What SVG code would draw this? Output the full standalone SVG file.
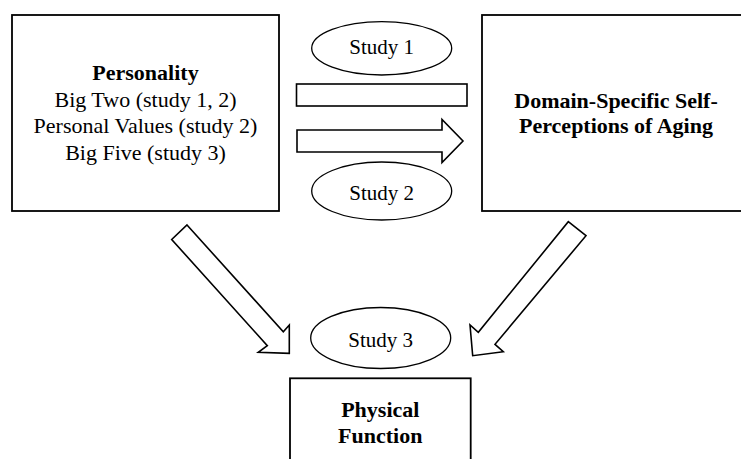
<svg xmlns="http://www.w3.org/2000/svg" width="741" height="459" viewBox="0 0 741 459">
<style>
.box{fill:#fff;stroke:#000;stroke-width:1.8}
.ell{fill:#fff;stroke:#000;stroke-width:1.3}
.arr{fill:#fff;stroke:#000;stroke-width:1.6;stroke-linejoin:miter}
text{font-family:"Liberation Serif","Times New Roman",serif;fill:#000;text-anchor:middle}
.b{font-weight:bold;font-size:22px}
.r{font-size:22px}
.s{font-size:21px}
</style>
<rect width="741" height="459" fill="#fff"/>
<g id="connectors">
<rect class="arr" x="296.5" y="84" width="170.5" height="22"/>
<polygon class="arr" points="297,130 442,130 442,119.5 463,141 442,162.5 442,152 297,152"/>
<polygon class="arr" points="187,225 283.3,331.7 289.3,325 289.3,353.3 258.3,352.3 267.3,345.7 171.7,239.5"/>
<polygon class="arr" points="568.3,221.7 586,235.7 495,344.3 503.3,351.7 472.7,355.7 470,325 478.3,332.3"/>
</g>
<g id="personality">
<rect class="box" x="12" y="15" width="267" height="196"/>
<text class="b" x="145.5" y="80">Personality</text>
<text class="r" x="145.5" y="106.7">Big Two (study 1, 2)</text>
<text class="r" x="145.5" y="133.3">Personal Values (study 2)</text>
<text class="r" x="145.5" y="160">Big Five (study 3)</text>
</g>
<g id="perceptions">
<rect class="box" x="482" y="15" width="270" height="196"/>
<text class="b" x="616" y="107.7">Domain-Specific Self-</text>
<text class="b" x="616" y="133.3">Perceptions of Aging</text>
</g>
<g id="study1">
<ellipse class="ell" cx="381.7" cy="48.3" rx="70" ry="26.7"/>
<text class="s" x="381.7" y="54">Study 1</text>
</g>
<g id="study2">
<ellipse class="ell" cx="381.7" cy="191" rx="70" ry="29"/>
<text class="s" x="381.7" y="200">Study 2</text>
</g>
<g id="study3">
<ellipse class="ell" cx="380.7" cy="338" rx="70" ry="30.5"/>
<text class="s" x="380.7" y="346.7">Study 3</text>
</g>
<g id="physical">
<rect class="box" x="290" y="378.3" width="180.7" height="90"/>
<text class="b" x="380.3" y="416.7">Physical</text>
<text class="b" x="380.3" y="443.3">Function</text>
</g>
</svg>
